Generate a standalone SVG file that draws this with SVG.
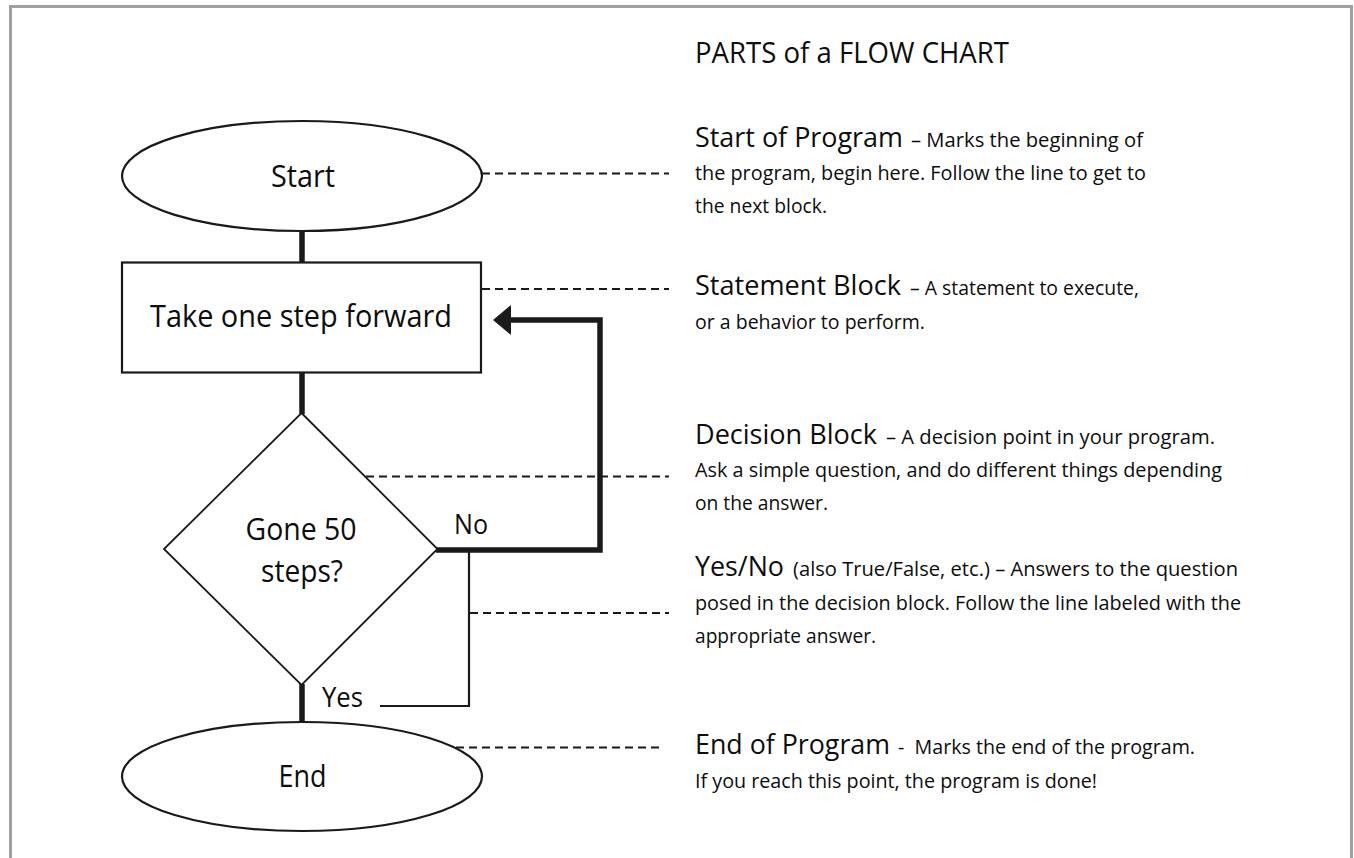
<svg xmlns="http://www.w3.org/2000/svg" width="1354" height="858" viewBox="0 0 1354 858">
<style>
  text { font-family: "Open Sans", "Liberation Sans", sans-serif; fill: #0d0d0d; }
  .node { fill: #fff; stroke: #1a1a1a; stroke-width: 2.2; }
  .thick { fill: none; stroke: #1a1a1a; stroke-width: 5.5; }
  .thin { fill: none; stroke: #1a1a1a; stroke-width: 2.2; }
  .dash { fill: none; stroke: #1a1a1a; stroke-width: 2.2; stroke-dasharray: 8 5; }
  .lbl { font-size: 31px; }
  .title { font-size: 29px; }
  .head { font-size: 28px; }
  .body { font-size: 20.5px; }
</style>
<defs>
  <marker id="arrow" viewBox="0 0 18 30" refX="3" refY="15" markerWidth="18" markerHeight="30" markerUnits="userSpaceOnUse" orient="auto">
    <path d="M0,0 L18,15 L0,30 z" fill="#1a1a1a"/>
  </marker>
</defs>
<rect width="1354" height="858" fill="#fff"/>
<path d="M10.5 862 V6.5 H1351.5 V862" fill="none" stroke="#a0a0a0" stroke-width="3"/>

<g id="connectors">
  <path class="thick" d="M302 231 V263"/>
  <path class="thick" d="M302 372 V414"/>
  <path class="thick" d="M302 684 V723"/>
  <path class="thick" d="M436 550 H600 V320 H508" marker-end="url(#arrow)"/>
  <path class="thin" d="M469 551 V706 H380"/>
  <text x="454" y="534" textLength="34" lengthAdjust="spacingAndGlyphs" style="font-size:27px">No</text>
  <text x="322" y="707" textLength="41" lengthAdjust="spacingAndGlyphs" style="font-size:27px">Yes</text>
</g>

<g id="callouts">
  <path class="dash" d="M482 173.5 H669"/>
  <path class="dash" d="M482 289 H669"/>
  <path class="dash" d="M366 476.5 H669"/>
  <path class="dash" d="M470 613 H669"/>
  <path class="dash" d="M456 747.5 H662"/>
</g>

<g id="node-start">
  <ellipse class="node" cx="302" cy="176" rx="180" ry="55"/>
  <text class="lbl" x="303" y="187" text-anchor="middle" textLength="64" lengthAdjust="spacingAndGlyphs">Start</text>
</g>

<g id="node-statement">
  <rect class="node" x="122" y="262.5" width="359" height="110"/>
  <text class="lbl" x="301" y="327" text-anchor="middle" textLength="302" lengthAdjust="spacingAndGlyphs">Take one step forward</text>
</g>

<g id="node-decision">
  <polygon class="node" points="301.5,413 437.5,549 301.5,685 164,549" style="stroke-width:1.8"/>
  <text class="lbl" x="301" y="540" text-anchor="middle" textLength="111" lengthAdjust="spacingAndGlyphs">Gone 50</text>
  <text class="lbl" x="302" y="582" text-anchor="middle" textLength="82" lengthAdjust="spacingAndGlyphs">steps?</text>
</g>

<g id="node-end">
  <ellipse class="node" cx="302" cy="776.5" rx="180" ry="54.5"/>
  <text class="lbl" x="302.5" y="787" text-anchor="middle" textLength="48" lengthAdjust="spacingAndGlyphs">End</text>
</g>

<g id="legend">
  <text class="title" x="695" y="63" textLength="314" lengthAdjust="spacingAndGlyphs">PARTS of a FLOW CHART</text>

  <text class="head" x="695" y="146.5" textLength="208" lengthAdjust="spacingAndGlyphs">Start of Program</text>
  <text class="body" x="911" y="146.5" textLength="232" lengthAdjust="spacingAndGlyphs">– Marks the beginning of</text>
  <text class="body" x="695" y="180" textLength="451" lengthAdjust="spacingAndGlyphs">the program, begin here. Follow the line to get to</text>
  <text class="body" x="695" y="213" textLength="132" lengthAdjust="spacingAndGlyphs">the next block.</text>

  <text class="head" x="695" y="295" textLength="206" lengthAdjust="spacingAndGlyphs">Statement Block</text>
  <text class="body" x="910" y="295" textLength="229" lengthAdjust="spacingAndGlyphs">– A statement to execute,</text>
  <text class="body" x="695" y="328.5" textLength="230" lengthAdjust="spacingAndGlyphs">or a behavior to perform.</text>

  <text class="head" x="695" y="443.5" textLength="182" lengthAdjust="spacingAndGlyphs">Decision Block</text>
  <text class="body" x="886" y="443.5" textLength="329" lengthAdjust="spacingAndGlyphs">– A decision point in your program.</text>
  <text class="body" x="695" y="477" textLength="527" lengthAdjust="spacingAndGlyphs">Ask a simple question, and do different things depending</text>
  <text class="body" x="695" y="510" textLength="133" lengthAdjust="spacingAndGlyphs">on the answer.</text>

  <text class="head" x="695" y="576" textLength="89" lengthAdjust="spacingAndGlyphs">Yes/No</text>
  <text class="body" x="793" y="576" textLength="445" lengthAdjust="spacingAndGlyphs">(also True/False, etc.) – Answers to the question</text>
  <text class="body" x="695" y="610" textLength="546" lengthAdjust="spacingAndGlyphs">posed in the decision block. Follow the line labeled with the</text>
  <text class="body" x="695" y="643" textLength="181" lengthAdjust="spacingAndGlyphs">appropriate answer.</text>

  <text class="head" x="695" y="753.5" textLength="195" lengthAdjust="spacingAndGlyphs">End of Program</text>
  <text class="body" x="898" y="753.5" textLength="297" lengthAdjust="spacingAndGlyphs" xml:space="preserve">-  Marks the end of the program.</text>
  <text class="body" x="695" y="787.5" textLength="402" lengthAdjust="spacingAndGlyphs">If you reach this point, the program is done!</text>
</g>
</svg>
